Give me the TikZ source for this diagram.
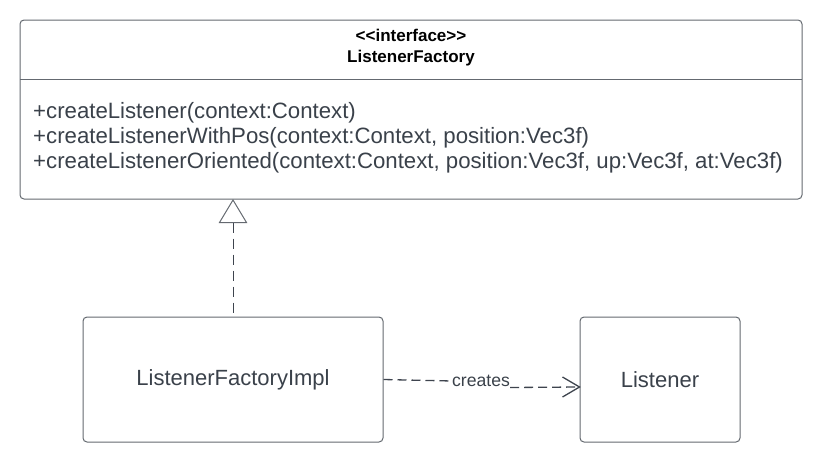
\documentclass[tikz,border=0pt]{standalone}
\usepackage{fontspec}
\setmainfont{Liberation Sans}
\usetikzlibrary{arrows.meta}
\definecolor{txt}{RGB}{58,65,74}
\definecolor{brd}{RGB}{100,105,112}
\definecolor{lnc}{RGB}{62,68,78}
\tikzset{
  box/.style={draw=brd, line width=1pt, rounded corners=4pt, fill=white},
  lbl/.style={text=txt, font=\fontsize{22}{25}\selectfont, inner sep=0pt},
  dep/.style={draw=lnc, line width=1.3pt, dash pattern=on 9pt off 5pt},
  ttl/.style={text=black, font=\fontsize{17}{20}\selectfont\bfseries, inner sep=0pt, anchor=base},
  meth/.style={text=txt, font=\fontsize{22.2}{25}\selectfont, inner sep=0pt, anchor=base west},
}
\begin{document}
\begin{tikzpicture}[x=1pt,y=-1pt]
\useasboundingbox (0,0) rectangle (822,464);
% interface box
\draw[box] (20,20) rectangle (802,199);
\coordinate (dl) at (20,79);
\coordinate (dr) at (802,79);
\draw[brd, line width=1pt] (dl) -- (dr);
\node[ttl] (st) at (411,41) {{<}{<}interface{>}{>}};
\node[ttl] (nm) at (411,62) {ListenerFactory};
\node[meth] (m1) at (33,118) {+createListener(context:Context)};
\node[meth] (m2) at (33,143) {+createListenerWithPos(context:Context, position:Vec3f)};
\node[meth] (m3) at (33,168) {+createListenerOriented(context:Context, position:Vec3f, up:Vec3f, at:Vec3f)};
% implementation boxes
\node[box, lbl, minimum width=300pt, minimum height=125pt] (impl) at (233,379.5) {ListenerFactoryImpl};
\node[box, lbl, minimum width=160pt, minimum height=125pt] (lst) at (660,379.5) {Listener};
% realization
\coordinate (apex) at (233,200);
\coordinate (tl) at (219.5,222.5);
\coordinate (tr) at (246.5,222.5);
\coordinate (tb) at (233,222.5);
\draw[dep, line width=1pt, dash pattern=on 10pt off 6pt] (tb) -- (impl.north);
\draw[brd, line width=1pt, fill=white] (apex) -- (tl) -- (tr) -- cycle;
% dependency
\node[text=txt, font=\fontsize{17.6}{20}\selectfont, inner sep=0pt] (cr) at (481,381) {creates};
\draw[dep] (impl.east) -- (cr.west);
\draw[dep] ([yshift=-6.5pt]cr.east) -- ([yshift=-7.5pt]lst.west);
\coordinate (aw1) at ([xshift=-17pt,yshift=2.5pt]lst.west);
\coordinate (aw2) at ([xshift=-17pt,yshift=-17.5pt]lst.west);
\draw[lnc, line width=1.3pt] (aw1) -- ([yshift=-7.5pt]lst.west) -- (aw2);
\end{tikzpicture}
\end{document}
